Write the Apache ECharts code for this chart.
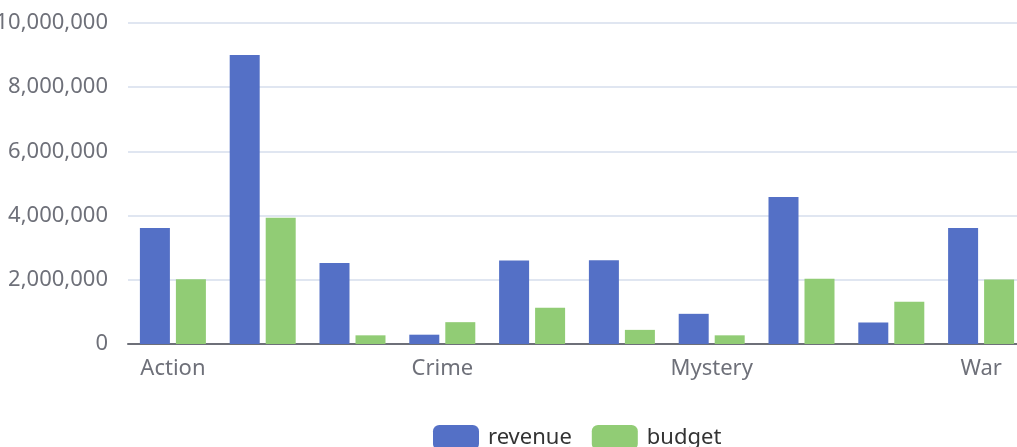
<!DOCTYPE html>
<html>
<head>
<meta charset="utf-8">
<script src="https://cdn.jsdelivr.net/npm/echarts@6/dist/echarts.min.js"></script>
<style>
  html, body { margin: 0; padding: 0; background: #fff; }
  #chart { width: 1017px; height: 447px; }
</style>
</head>
<body>
<div id="chart"></div>
<script>
var genres = ['Action', 'Adventure', 'Animation', 'Crime', 'Drama', 'Horror', 'Mystery', 'Romance', 'Thriller', 'War'];
var revenue = [3610000, 9000000, 2520000, 290000, 2600000, 2610000, 940000, 4580000, 670000, 3610000];
var budget = [2020000, 3930000, 270000, 680000, 1130000, 440000, 270000, 2030000, 1320000, 2010000];
var yTicks = { min: 0, max: 10000000, interval: 2000000 };

var font = 'Noto Sans';
var myChart = echarts.init(document.getElementById('chart'));
var option = {
    color: ['#5470c6', '#91cc75'],
    textStyle: { fontFamily: font },
    grid: {
        left: 128,
        right: -9,
        top: 23,
        bottom: 103,
        containLabel: false,
        outerBoundsMode: 'none'
    },
    legend: {
        data: ['revenue', 'budget'],
        left: 428,
        top: 420,
        itemWidth: 46,
        itemHeight: 25,
        itemGap: 20,
        textStyle: { fontSize: 22, color: '#333', padding: [0, 0, 0, 4] }
    },
    xAxis: {
        type: 'category',
        data: genres,
        axisLine: { lineStyle: { color: '#6E7079', width: 2 } },
        axisTick: { length: 8, lineStyle: { width: 2 } },
        axisLabel: {
            interval: 2,
            margin: 14,
            fontSize: 22,
            color: '#6E7079'
        }
    },
    yAxis: {
        type: 'value',
        min: yTicks.min,
        max: yTicks.max,
        interval: yTicks.interval,
        axisLabel: {
            margin: 20,
            fontSize: 22,
            color: '#6E7079',
            formatter: function (v) { return v.toLocaleString('en-US'); }
        },
        splitLine: { lineStyle: { color: '#E0E6F1', width: 2 } }
    },
    series: [{
        name: 'revenue',
        type: 'bar',
        data: revenue,
        barWidth: 30,
        barGap: '20%'
    }, {
        name: 'budget',
        type: 'bar',
        data: budget,
        barWidth: 30,
        barGap: '20%'
    }]
};
myChart.setOption(option);
window.addEventListener('resize', function () {
    myChart.resize();
});
</script>
</body>
</html>
